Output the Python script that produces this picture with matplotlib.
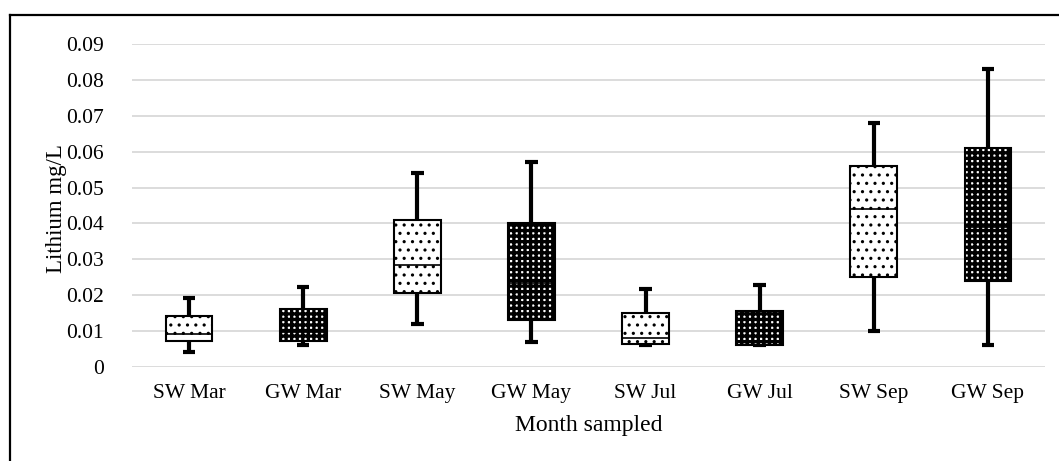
import matplotlib
matplotlib.use("Agg")
import matplotlib.pyplot as plt
from matplotlib.lines import Line2D

categories = ["SW Mar", "GW Mar", "SW May", "GW May", "SW Jul", "GW Jul", "SW Sep", "GW Sep"]
whislo = [0.0042, 0.0061, 0.012, 0.007, 0.0062, 0.006, 0.010, 0.006]
q1 = [0.0072, 0.0072, 0.0205, 0.013, 0.0064, 0.0061, 0.025, 0.024]
med = [0.0092, 0.0097, 0.0285, 0.0235, 0.008, 0.0086, 0.044, 0.039]
q3 = [0.0142, 0.0161, 0.041, 0.040, 0.015, 0.0156, 0.056, 0.061]
whishi = [0.0192, 0.0222, 0.054, 0.057, 0.0217, 0.0228, 0.068, 0.083]
yticks = [0, 0.01, 0.02, 0.03, 0.04, 0.05, 0.06, 0.07, 0.08, 0.09]
ytick_labels = ["0", "0.01", "0.02", "0.03", "0.04", "0.05", "0.06", "0.07", "0.08", "0.09"]

plt.rcParams["font.family"] = ["Liberation Serif", "DejaVu Serif"]
plt.rcParams["hatch.linewidth"] = 1.0

fig = plt.figure(figsize=(10.59, 4.61), dpi=100)
ax = fig.add_axes([132 / 1059, 1 - 367 / 461, (1045 - 132) / 1059, (367 - 44) / 461])

stats = []
for i, c in enumerate(categories):
    stats.append(dict(label=c, whislo=whislo[i], q1=q1[i], med=med[i], q3=q3[i], whishi=whishi[i], fliers=[]))

bp = ax.bxp(stats, positions=range(len(categories)), widths=0.41, patch_artist=True,
            showfliers=False, zorder=3,
            boxprops=dict(linewidth=1.5, edgecolor="black"),
            medianprops=dict(color="black", linewidth=1.2),
            whiskerprops=dict(color="black", linewidth=3.0, solid_capstyle="butt"),
            capprops=dict(color="black", linewidth=3.0, solid_capstyle="butt"),
            capwidths=0.11)


def set_hlw(patch, lw):
    if hasattr(patch, "set_hatch_linewidth"):
        patch.set_hatch_linewidth(lw)
    else:
        patch._hatch_linewidth = lw


for i, box in enumerate(bp["boxes"]):
    box.set_facecolor("white")
    if categories[i].startswith("SW"):
        box.set_hatch("..")
        set_hlw(box, 1.1)
    else:
        box.set_hatch("+++")
        set_hlw(box, 2.4)

for w in bp["whiskers"]:
    w.set_zorder(2)
for c in bp["caps"]:
    c.set_zorder(2)

ax.set_xlim(-0.5, len(categories) - 0.5)
ax.set_ylim(0, 0.09)
ax.set_yticks(yticks)
ax.set_yticklabels(ytick_labels)
ax.set_xticks(range(len(categories)))
ax.set_xticklabels(categories)
ax.tick_params(axis="both", length=0, labelsize=15.5, colors="black")
ax.tick_params(axis="y", pad=20)
ax.tick_params(axis="x", pad=12)
ax.grid(axis="y", color="#d9d9d9", linewidth=1.3, zorder=0)
ax.set_axisbelow(True)
for s in ax.spines.values():
    s.set_visible(False)

ax.set_xlabel("Month sampled", fontsize=17, labelpad=9)
ax.set_ylabel("Lithium mg/L", fontsize=16.5)
ax.yaxis.set_label_coords((67 - 132) / 913, (367 - 209) / 323)

# outer frame (top and left)
fig.add_artist(Line2D([10 / 1059, 10 / 1059], [0, 1 - 15.5 / 461], color="black", linewidth=1.6, transform=fig.transFigure))
fig.add_artist(Line2D([10 / 1059, 1], [1 - 15.5 / 461, 1 - 15.5 / 461], color="black", linewidth=1.6, transform=fig.transFigure))

fig.savefig("out.png", dpi=100)
